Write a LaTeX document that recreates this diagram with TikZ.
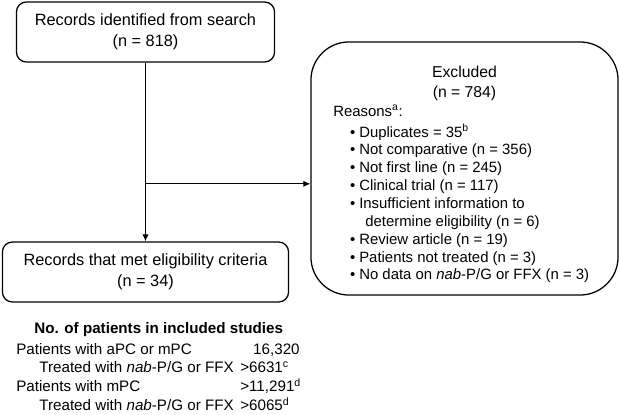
\documentclass[tikz,border=0pt]{standalone}
\usepackage{fontspec}
\setmainfont{Liberation Sans}
\usetikzlibrary{positioning,calc,arrows.meta}

\begin{document}
\begin{tikzpicture}[x=0.025cm,y=-0.025cm,
    flowbox/.style={draw,line width=0.9pt,rounded corners=7pt,align=center,inner sep=0pt,
      font=\fontsize{11.6}{15}\selectfont,execute at begin node={\rule{0pt}{12.2pt}}},
    flowarrow/.style={line width=0.8pt,-{Latex[length=5pt,width=4.5pt]}}]
    \useasboundingbox (0,0) rectangle (620,415);

    % Search and eligibility boxes
    \node[flowbox,minimum width=6.45cm,minimum height=1.5cm] (search) at (145.5,32)
        {Records identified from search\\(n = 818)};
    \node[flowbox,minimum width=7.15cm,minimum height=1.5cm] (eligible) at (145.5,272)
        {Records that met eligibility criteria\\(n = 34)};

    % Excluded box
    \node[draw,line width=0.9pt,rounded corners=0.95cm,minimum width=7.675cm,
        minimum height=6.325cm,inner sep=0pt] (excl) at (464.5,168.5) {};
    \node[anchor=base,inner sep=0pt,align=center,font=\fontsize{11.2}{14.2}\selectfont]
        (exclhead) at (464.5,97) {Excluded\\(n = 784)};
    \node[anchor=base west,inner sep=0pt,font=\fontsize{10.6}{12.7}\selectfont]
        (reasons) at (333,116) {%
        \begin{tabular}[t]{@{}l@{}}
        Reasons\textsuperscript{a}:\\[1.8pt]
        \hspace*{12pt}\makebox[6.5pt][l]{\textbullet}Duplicates = 35\textsuperscript{b}\\
        \hspace*{12pt}\makebox[6.5pt][l]{\textbullet}Not comparative (n = 356)\\
        \hspace*{12pt}\makebox[6.5pt][l]{\textbullet}Not first line (n = 245)\\
        \hspace*{12pt}\makebox[6.5pt][l]{\textbullet}Clinical trial (n = 117)\\
        \hspace*{12pt}\makebox[6.5pt][l]{\textbullet}Insufficient information to\\
        \hspace*{22.8pt}determine eligibility (n = 6)\\
        \hspace*{12pt}\makebox[6.5pt][l]{\textbullet}Review article (n = 19)\\
        \hspace*{12pt}\makebox[6.5pt][l]{\textbullet}Patients not treated (n = 3)\\
        \hspace*{12pt}\makebox[6.5pt][l]{\textbullet}No data on \textit{nab}-P/G or FFX (n = 3)
        \end{tabular}};

    % Connectors
    \coordinate (split) at ($(search.south)!0.678!(eligible.north)$);
    \draw[flowarrow] (search.south) -- (eligible.north);
    \draw[flowarrow] (split) -- (split -| excl.west);

    % Patient numbers
    \node[anchor=base west,inner sep=0pt,font=\fontsize{10.8}{13.2}\selectfont]
        (patients) at (16,333) {%
        \begin{tabular}[t]{@{}p{159.3pt}@{}l@{}}
        \multicolumn{2}{c}{\bfseries No. of patients in included studies}\\[2pt]
        Patients with aPC or mPC & \hspace*{9.2pt}16,320\\
        \hspace*{16.4pt}Treated with \textit{nab}-P/G or FFX & >6631\textsuperscript{c}\\
        Patients with mPC & >11,291\textsuperscript{d}\\
        \hspace*{16.4pt}Treated with \textit{nab}-P/G or FFX & >6065\textsuperscript{d}
        \end{tabular}};
\end{tikzpicture}
\end{document}
